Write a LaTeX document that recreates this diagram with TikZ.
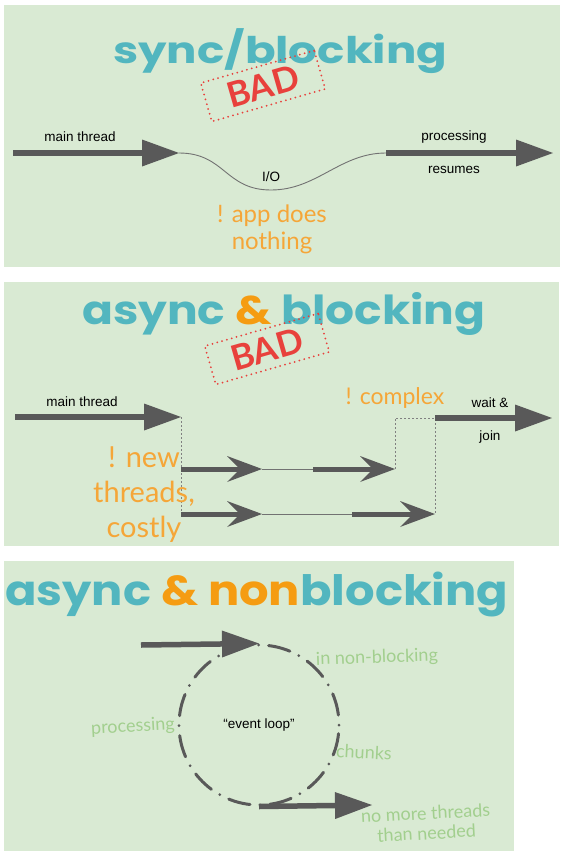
\documentclass[tikz,border=0pt]{standalone}
\usepackage{fontspec}
\usepackage{graphicx}
\usetikzlibrary{arrows.meta}
\newfontfamily\titlefont{Poppins}
\newfontfamily\labfont{Liberation Sans}
\newfontfamily\handfont{Lato}
\definecolor{panelbg}{HTML}{D9EAD3}
\definecolor{tealt}{HTML}{52B6BF}
\definecolor{orng}{HTML}{F59C12}
\definecolor{handorng}{HTML}{F5A638}
\definecolor{softgreen}{HTML}{A2CF8E}
\definecolor{badred}{HTML}{E8413C}
\definecolor{arrowgray}{HTML}{595959}
\begin{document}
\begin{tikzpicture}[x=1pt,y=-1pt,
 ttl/.style={inner sep=0, anchor=north west},
 lab/.style={font=\labfont\fontsize{13.5}{16}\selectfont, text=black, inner sep=0},
 handtxt/.style={font=\handfont\fontsize{24}{27}\selectfont, text=handorng, align=center, inner sep=0},
 greentxt/.style={font=\handfont\fontsize{18}{20}\selectfont, text=softgreen, align=center, inner sep=0},
 stamp/.style={draw=badred, line width=2pt, dash pattern=on 0pt off 5pt, line cap=round,
   minimum width=118pt, minimum height=40pt, rotate=16, text=badred,
   font=\handfont\bfseries\fontsize{35}{35}\selectfont, inner sep=0},
 bigarrow/.style={draw=arrowgray, line width=5.5pt, -{Triangle[length=37pt,width=27pt,line width=0pt]}},
 chevarrow/.style={draw=arrowgray, line width=5pt, -{Stealth[length=35pt,width=26pt,inset=13pt,line width=0pt]}},
 thinline/.style={draw=arrowgray!85, line width=0.9pt},
 dashline/.style={draw=gray, line width=0.9pt, dash pattern=on 2pt off 2pt},
]
\useasboundingbox (0,0) rectangle (569,857);
% panels
\fill[panelbg] (4,5) rectangle (560,267);
\fill[panelbg] (4,282) rectangle (559,546);
\fill[panelbg] (4,561) rectangle (514,851);

% ---------- panel 1 ----------
\node[ttl] (t1) at (113,28) {\resizebox*{334pt}{45pt}{\titlefont\bfseries\color{tealt}sync/blocking}};
\node[stamp] (bad1) at (263,86) {BAD};
\coordinate (a1s) at (13,153);
\coordinate (a1e) at (179,153);
\coordinate (iolow) at (271,190);
\coordinate (a2s) at (386,153);
\coordinate (a2e) at (553,153);
\draw[bigarrow] (a1s) -- (a1e);
\draw[thinline] (a1e) .. controls (225,153) and (225,190) .. (iolow) .. controls (317,190) and (340,153) .. (a2s);
\draw[bigarrow] (a2s) -- (a2e);
\node[lab] (mt1) at (80,137) {main thread};
\node[lab] (io) at (271,177) {I/O};
\node[lab] (proc1) at (454,137) {processing};
\node[lab] (res1) at (454,170) {resumes};
\node[handtxt] (nothing) at (272,229) {! app does\\nothing};

% ---------- panel 2 ----------
\node[ttl] (t2) at (82,292) {\resizebox*{403pt}{43pt}{\titlefont\bfseries\color{tealt}async {\color{orng}\&} blocking}};
\node[stamp] (bad2) at (267,349) {BAD};
\coordinate (m2s) at (15,417);
\coordinate (m2e) at (181,417);
\coordinate (u0) at (181,469);
\coordinate (u1) at (262,469);
\coordinate (u2) at (313,469);
\coordinate (u3) at (395,469);
\coordinate (l0) at (181,514);
\coordinate (l1) at (262,514);
\coordinate (l2) at (352,514);
\coordinate (l3) at (435,514);
\coordinate (jc) at (395,418);
\coordinate (j0) at (435,418);
\coordinate (jend) at (552,418);
\draw[bigarrow] (m2s) -- (m2e);
\draw[dashline] (m2e) -- (l0);
\draw[chevarrow] (u0) -- (u1);
\draw[thinline] (u1) -- (u2);
\draw[chevarrow] (u2) -- (u3);
\draw[chevarrow] (l0) -- (l1);
\draw[thinline] (l1) -- (l2);
\draw[chevarrow] (l2) -- (l3);
\draw[dashline] (u3) -- (jc) -- (j0) -- (l3);
\draw[bigarrow] (j0) -- (jend);
\node[lab] (mt2) at (82,402) {main thread};
\node[lab] (wait) at (490,403) {wait \&};
\node[lab] (join) at (490,437) {join};
\node[handtxt, font=\handfont\fontsize{23}{27}\selectfont] (cx) at (395,398) {! complex};
\node[handtxt, font=\handfont\fontsize{29}{35}\selectfont] (newt) at (144,495) {! new\\threads,\\costly};

% ---------- panel 3 ----------
\node[ttl] (t3) at (5,572) {\resizebox*{503pt}{45pt}{\titlefont\bfseries\color{tealt}async {\color{orng}\& non}blocking}};
\node[circle, draw=arrowgray, line width=3pt, line cap=round,
      dash pattern=on 0pt off 10pt on 22pt off 10pt, minimum size=160pt, inner sep=0,
      font=\labfont\fontsize{13.5}{16}\selectfont] (loop) at (259,725) {“event loop”};
\coordinate (ins) at (141,645);
\coordinate (oute) at (372,805);
\draw[bigarrow] (ins) -- (loop.north);
\draw[bigarrow] (loop.south) -- (oute);
\node[greentxt, rotate=2] (nb) at (377,658) {in non-blocking};
\node[greentxt, rotate=3] (pr3) at (133,727) {processing};
\node[greentxt, rotate=-3] (ch) at (364,752) {chunks};
\node[greentxt, rotate=3] (nm) at (426,823) {no more threads\\than needed};
\end{tikzpicture}
\end{document}
